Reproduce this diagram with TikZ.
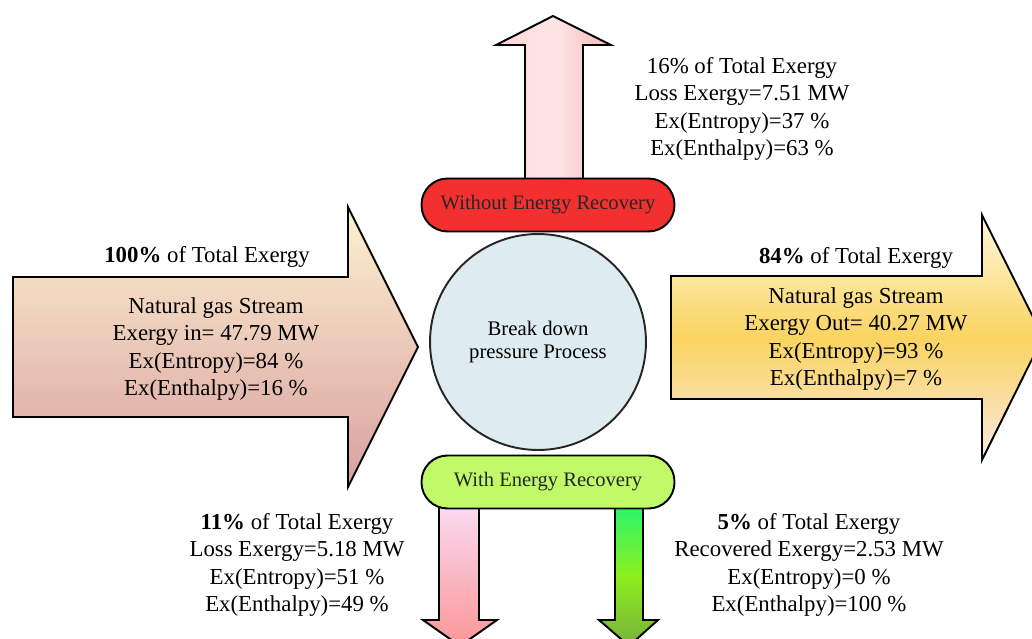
\documentclass[tikz,border=0pt]{standalone}
\usepackage{fontspec}
\setmainfont{Liberation Serif}
\usepackage{xcolor}
\usepackage{tikz}
\usetikzlibrary{positioning}

\definecolor{pillred}{RGB}{242,48,48}
\definecolor{pillgreen}{RGB}{192,250,104}
\definecolor{procblue}{RGB}{222,236,242}
\definecolor{inTop}{RGB}{253,241,208}
\definecolor{inBot}{RGB}{216,160,160}
\definecolor{outTop}{RGB}{255,247,222}
\definecolor{outMid}{RGB}{250,212,96}
\definecolor{outBot}{RGB}{250,232,226}
\definecolor{upLeft}{RGB}{255,212,212}
\definecolor{upMid}{RGB}{255,230,230}
\definecolor{upRight}{RGB}{246,182,188}
\definecolor{lossTop}{RGB}{250,218,242}
\definecolor{lossBot}{RGB}{250,150,150}
\definecolor{recTop}{RGB}{40,245,110}
\definecolor{recMid}{RGB}{140,240,30}
\definecolor{recBot}{RGB}{120,175,60}

\begin{document}
\begin{tikzpicture}[x=0.02cm, y=-0.02cm,
    info/.style = {align=center, font=\fontsize{13}{15.5}\selectfont},
    pill/.style = {rectangle, rounded corners=0.52cm, draw=black,
                   line width=1.1pt, minimum width=5.06cm,
                   minimum height=1.06cm, text=black!85,
                   font=\fontsize{11.7}{14}\selectfont},
    process/.style = {circle, draw=black!85, line width=1.1pt,
                      fill=procblue, minimum size=4.32cm, align=center,
                      font=\fontsize{11.8}{13.6}\selectfont},
    blockarrow/.style = {draw=black, line width=1.1pt, line join=miter}]
  \path[use as bounding box, clip] (0,0) rectangle (1032,639);

  % block arrows
  \draw[blockarrow, top color=inTop, bottom color=inBot]
    (13,277) -- (348,277) -- (348,207) -- (418,347) -- (348,487)
    -- (348,417) -- (13,417) -- cycle;
  \draw[blockarrow, top color=outTop, bottom color=outBot, middle color=outMid]
    (671,276) -- (982,276) -- (982,215) -- (1043,337) -- (982,460)
    -- (982,399) -- (671,399) -- cycle;
  \draw[blockarrow, left color=upLeft, right color=upRight, middle color=upMid]
    (525,180) -- (525,45) -- (496,45) -- (553,16) -- (611,45)
    -- (583,45) -- (583,180) -- cycle;
  \draw[blockarrow, top color=lossTop, bottom color=lossBot]
    (439,505) -- (439,620) -- (423,620) -- (460,646) -- (497,620)
    -- (479,620) -- (479,505) -- cycle;
  \draw[blockarrow, top color=recTop, bottom color=recBot, middle color=recMid]
    (615,505) -- (615,620) -- (599,620) -- (629,646) -- (658,620)
    -- (643,620) -- (643,505) -- cycle;

  % process and the two cases
  \node (proc) [process] at (538,342) {\raisebox{-1mm}{Break down}\\\raisebox{-1mm}{pressure Process}};
  \node (without) [pill, fill=pillred] at (548,205) {Without Energy Recovery};
  \node (with) [pill, fill=pillgreen] at (548,482) {With Energy Recovery};

  % labels
  \node (inhead) [info] at (207,257) {\textbf{100\%} of Total Exergy};
  \node (ininfo) [info] at (216,349) {Natural gas Stream\\Exergy in= 47.79 MW\\
    Ex(Entropy)=84 \%\\Ex(Enthalpy)=16 \%};
  \node (outhead) [info] at (856,258) {\textbf{84\%} of Total Exergy};
  \node (outinfo) [info] at (856,339) {Natural gas Stream\\Exergy Out= 40.27 MW\\
    Ex(Entropy)=93 \%\\Ex(Enthalpy)=7 \%};
  \node (upinfo) [info] at (742,109) {16\% of Total Exergy\\Loss Exergy=7.51 MW\\
    Ex(Entropy)=37 \%\\Ex(Enthalpy)=63 \%};
  \node (lossinfo) [info] at (297,565) {\textbf{11\%} of Total Exergy\\
    Loss Exergy=5.18 MW\\Ex(Entropy)=51 \%\\Ex(Enthalpy)=49 \%};
  \node (recinfo) [info] at (809,565) {\textbf{5\%} of Total Exergy\\
    Recovered Exergy=2.53 MW\\Ex(Entropy)=0 \%\\Ex(Enthalpy)=100 \%};
\end{tikzpicture}
\end{document}
